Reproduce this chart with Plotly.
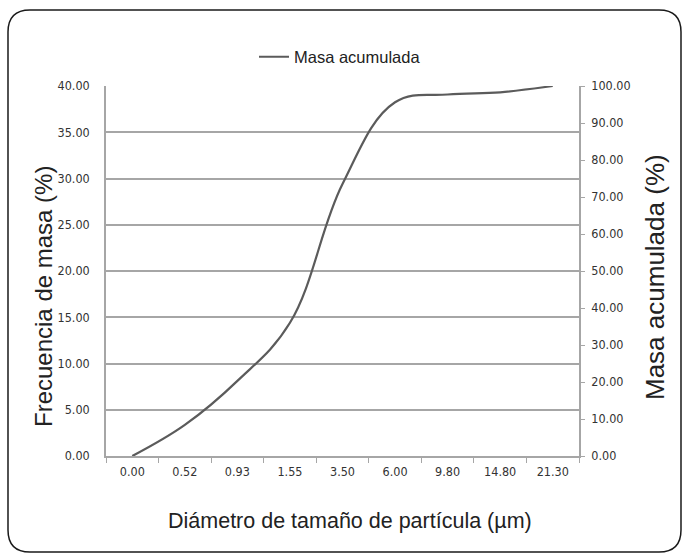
import plotly.graph_objects as go

categories = ["0.00", "0.52", "0.93", "1.55", "3.50", "6.00", "9.80", "14.80", "21.30"]
masa_acumulada = [0.0, 8.4, 20.3, 36.0, 73.5, 95.6, 97.7, 98.3, 100.0]
left_ticks = [0, 5, 10, 15, 20, 25, 30, 35, 40]
right_ticks = [0, 10, 20, 30, 40, 50, 60, 70, 80, 90, 100]

W, H = 683, 560
L, R, T, B = 106, 579, 86, 456

fig = go.Figure()
# empty series so the left (frequency) axis is drawn
fig.add_trace(go.Scatter(x=categories, y=[None] * len(categories), yaxis="y", mode="lines",
                         showlegend=False, hoverinfo="skip"))
fig.add_trace(go.Scatter(
    x=categories, y=masa_acumulada, yaxis="y2", mode="lines",
    name="Masa acumulada",
    line=dict(color="#5b5b5b", width=2.2, shape="spline", smoothing=1.1),
))

tickfont = dict(family="Liberation Sans Narrow, DejaVu Sans Condensed, sans-serif", size=12.5, color="#333333")
titlefam = "Liberation Sans, Arial, sans-serif"

def px_to_paper(px, py):
    return (px - L) / (R - L), (B - py) / (B - T)

def P(px, py):
    a, b = px_to_paper(px, py)
    return f"{a:.5f},{b:.5f}"

# rounded frame
x0, y0, x1, y1, r = 8, 10, 681, 552, 22
path = (f"M {P(x0 + r, y0)} L {P(x1 - r, y0)} Q {P(x1, y0)} {P(x1, y0 + r)} "
        f"L {P(x1, y1 - r)} Q {P(x1, y1)} {P(x1 - r, y1)} "
        f"L {P(x0 + r, y1)} Q {P(x0, y1)} {P(x0, y1 - r)} "
        f"L {P(x0, y0 + r)} Q {P(x0, y0)} {P(x0 + r, y0)} Z")
fig.add_shape(type="path", path=path, xref="paper", yref="paper",
              line=dict(color="#1a1a1a", width=1.5), layer="below")

fig.update_layout(
    width=W, height=H,
    margin=dict(l=L, r=W - R, t=T, b=H - B, autoexpand=False),
    paper_bgcolor="white", plot_bgcolor="white",
    showlegend=True,
    legend=dict(orientation="h", x=px_to_paper(340, 0)[0], xanchor="center", y=(B - 57) / (B - T),
                yanchor="middle",
                font=dict(family=titlefam, size=16.5, color="#222222"),
                bgcolor="rgba(0,0,0,0)"),
    xaxis=dict(type="category", tickson="boundaries", ticks="outside", ticklen=5,
               tickcolor="#a6a6a6", tickwidth=1, showline=True, linecolor="#a6a6a6", linewidth=1.5,
               showgrid=False, tickfont=tickfont, range=[-0.5, 8.5], automargin=False,
               ticklabelstandoff=3),
    yaxis=dict(range=[0, 40], tickvals=left_ticks, tickformat=".2f", showgrid=True,
               gridcolor="#a6a6a6", gridwidth=2, showline=True, linecolor="#a6a6a6", linewidth=1.5,
               ticks="", tickfont=tickfont, zeroline=False, ticklabelstandoff=12, automargin=False),
    yaxis2=dict(range=[0, 100], tickvals=right_ticks, tickformat=".2f", overlaying="y", side="right",
                showgrid=False, showline=True, linecolor="#a6a6a6", linewidth=1.5,
                ticks="outside", ticklen=4, tickcolor="#a6a6a6", tickfont=tickfont, zeroline=False,
                ticklabelstandoff=4, automargin=False),
)

fig.add_annotation(text="Frecuencia de masa (%)", textangle=-90, xref="paper", yref="paper",
                   x=px_to_paper(43, 0)[0], y=px_to_paper(0, 297)[1], showarrow=False,
                   font=dict(family=titlefam, size=24, color="#222222"), xanchor="center", yanchor="middle")
fig.add_annotation(text="Masa acumulada (%)", textangle=-90, xref="paper", yref="paper",
                   x=px_to_paper(655, 0)[0], y=px_to_paper(0, 277)[1], showarrow=False,
                   font=dict(family=titlefam, size=26, color="#222222"), xanchor="center", yanchor="middle")
fig.add_annotation(text="Diámetro de tamaño de partícula (µm)", xref="paper", yref="paper",
                   x=px_to_paper(350, 0)[0], y=px_to_paper(0, 521)[1], showarrow=False,
                   font=dict(family=titlefam, size=21.5, color="#222222"), xanchor="center", yanchor="middle")

fig.write_html("out.html", config={"displayModeBar": False},
               post_script="document.body.style.margin='0';document.body.style.overflow='hidden';")
